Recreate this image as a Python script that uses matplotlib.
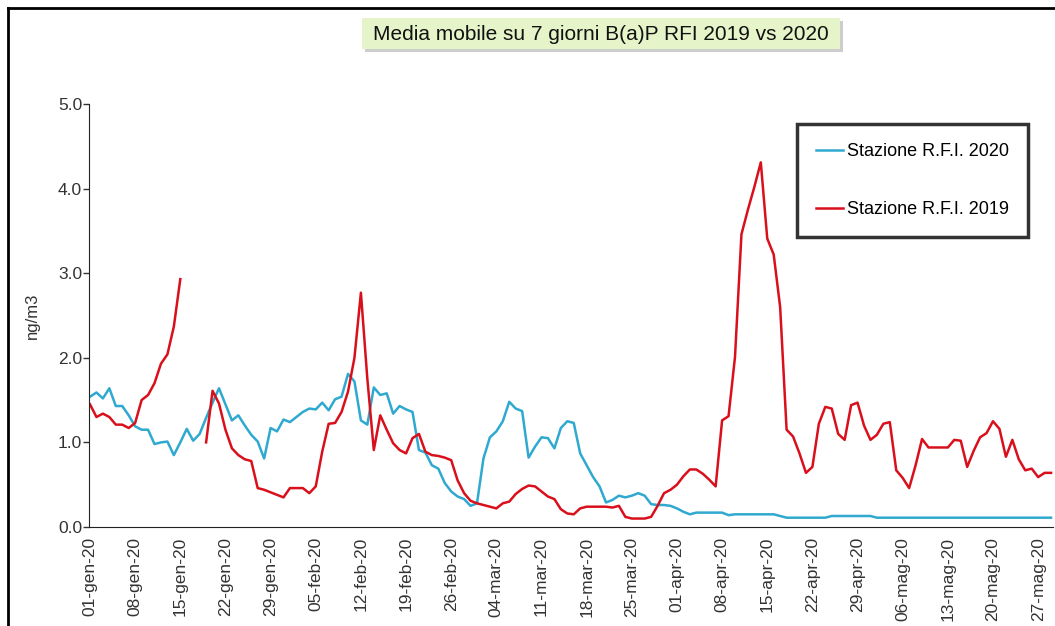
import numpy as np
import pandas as pd
import matplotlib
matplotlib.use('Agg')
import matplotlib.pyplot as plt
import matplotlib.dates as mdates
from matplotlib.lines import Line2D
from matplotlib.patches import Rectangle

plt.rcParams['font.family'] = ['Liberation Sans', 'DejaVu Sans']

nan = np.nan

# 7-day moving average, one value per day starting 01-gen
blue_2020 = [
    1.54, 1.59, 1.52, 1.64, 1.43, 1.43, 1.32, 1.19, 1.15, 1.15,
    0.98, 1.00, 1.01, 0.85, 1.00, 1.16, 1.02, 1.10, 1.29, 1.47,
    1.64, 1.45, 1.26, 1.32, 1.20, 1.09, 1.01, 0.81, 1.17, 1.13,
    1.27, 1.24, 1.30, 1.36, 1.40, 1.39, 1.47, 1.38, 1.51, 1.54,
    1.81, 1.72, 1.26, 1.21, 1.65, 1.56, 1.58, 1.34, 1.43, 1.39,
    1.36, 0.91, 0.88, 0.73, 0.69, 0.52, 0.42, 0.36, 0.33, 0.25,
    0.28, 0.81, 1.06, 1.13, 1.25, 1.48, 1.40, 1.37, 0.82, 0.95,
    1.06, 1.05, 0.93, 1.17, 1.25, 1.23, 0.87, 0.73, 0.59, 0.48,
    0.29, 0.32, 0.37, 0.35, 0.37, 0.40, 0.37, 0.27, 0.26, 0.26,
    0.25, 0.22, 0.18, 0.15, 0.17, 0.17, 0.17, 0.17, 0.17, 0.14,
    0.15, 0.15, 0.15, 0.15, 0.15, 0.15, 0.15, 0.13, 0.11, 0.11,
    0.11, 0.11, 0.11, 0.11, 0.11, 0.13, 0.13, 0.13, 0.13, 0.13,
    0.13, 0.13, 0.11, 0.11, 0.11, 0.11, 0.11, 0.11, 0.11, 0.11,
    0.11, 0.11, 0.11, 0.11, 0.11, 0.11, 0.11, 0.11, 0.11, 0.11,
    0.11, 0.11, 0.11, 0.11, 0.11, 0.11, 0.11, 0.11, 0.11, 0.11,
]

red_2019 = [
    1.45, 1.30, 1.34, 1.30, 1.21, 1.21, 1.17, 1.23, 1.50, 1.56,
    1.70, 1.93, 2.04, 2.37, 2.93, nan, nan, nan, 1.00, 1.61,
    1.46, 1.15, 0.93, 0.85, 0.80, 0.78, 0.46, 0.44, 0.41, 0.38,
    0.35, 0.46, 0.46, 0.46, 0.40, 0.48, 0.89, 1.22, 1.23, 1.36,
    1.60, 2.00, 2.77, 1.75, 0.91, 1.32, 1.15, 0.99, 0.91, 0.87,
    1.05, 1.10, 0.89, 0.85, 0.84, 0.82, 0.79, 0.55, 0.40, 0.31,
    0.28, 0.26, 0.24, 0.22, 0.28, 0.30, 0.39, 0.45, 0.49, 0.48,
    0.42, 0.36, 0.33, 0.21, 0.16, 0.15, 0.22, 0.24, 0.24, 0.24,
    0.24, 0.23, 0.25, 0.12, 0.10, 0.10, 0.10, 0.12, 0.25, 0.40,
    0.44, 0.50, 0.60, 0.68, 0.68, 0.63, 0.56, 0.48, 1.26, 1.31,
    2.01, 3.46, 3.75, 4.02, 4.31, 3.41, 3.22, 2.60, 1.15, 1.07,
    0.87, 0.64, 0.71, 1.22, 1.42, 1.40, 1.10, 1.03, 1.44, 1.47,
    1.20, 1.03, 1.09, 1.22, 1.24, 0.67, 0.58, 0.46, 0.73, 1.04,
    0.94, 0.94, 0.94, 0.94, 1.03, 1.02, 0.71, 0.90, 1.06, 1.11,
    1.25, 1.16, 0.83, 1.03, 0.80, 0.67, 0.69, 0.59, 0.64, 0.64,
]

tick_labels = [
    '01-gen-20', '08-gen-20', '15-gen-20', '22-gen-20', '29-gen-20',
    '05-feb-20', '12-feb-20', '19-feb-20', '26-feb-20', '04-mar-20',
    '11-mar-20', '18-mar-20', '25-mar-20', '01-apr-20', '08-apr-20',
    '15-apr-20', '22-apr-20', '29-apr-20', '06-mag-20', '13-mag-20',
    '20-mag-20', '27-mag-20',
]

dates = pd.date_range('2020-01-01', periods=len(blue_2020), freq='D')
x = mdates.date2num(dates)

W, H = 1055, 626
fig = plt.figure(figsize=(W / 100, H / 100), dpi=100)
fig.patch.set_facecolor('white')

# axes box in pixel terms: y axis at x=89, x axis at y=527, top (5.0) at y=104
left, right, bottom, top = 89, 1053, 527, 104
ax = fig.add_axes([left / W, 1 - bottom / H, (right - left) / W, (bottom - top) / H])

ax.plot(x, blue_2020, color='#2fa9cf', lw=1.8, label='Stazione R.F.I. 2020')
ax.plot(x, red_2019, color='#d9101c', lw=1.8, label='Stazione R.F.I. 2019')

px_day = 6.45
ax.set_xlim(x[0] - 1 / px_day, x[0] + (right - 90) / px_day)
ax.set_ylim(0, 5)

ax.set_yticks(np.arange(0, 5.01, 1.0))
ax.set_yticklabels(['%.1f' % v for v in np.arange(0, 5.01, 1.0)])
ax.set_xticks(x[::7])
ax.set_xticklabels(tick_labels, rotation=90)

ax.tick_params(axis='y', direction='out', length=4, width=1, colors='#333333',
               labelsize=12.5, pad=1)
ax.tick_params(axis='x', length=0, labelsize=12.5, labelcolor='#333333', pad=7)

for s in ['top', 'right']:
    ax.spines[s].set_visible(False)
ax.spines['left'].set_color('#222222')
ax.spines['bottom'].set_color('#222222')

ax.set_ylabel('ng/m3', fontsize=12, color='#333333', labelpad=13)

leg = ax.legend(loc='upper left', bbox_to_anchor=(797 / W, 1 - 124 / H),
                bbox_transform=fig.transFigure, fontsize=13, frameon=True,
                fancybox=False, borderpad=1.05, borderaxespad=0,
                labelspacing=2.3, handlelength=1.5, handletextpad=0.2)
leg.get_frame().set_edgecolor('black')
leg.get_frame().set_linewidth(2.5)
for line in leg.get_lines():
    line.set_linewidth(1.8)

# title in a light green box with a soft shadow
fig.add_artist(Rectangle((365 / W, 1 - 52 / H), 478 / W, 31 / H,
                         transform=fig.transFigure, facecolor='#cdcdcd', edgecolor='none'))
fig.add_artist(Rectangle((362 / W, 1 - 49 / H), 478 / W, 31 / H,
                         transform=fig.transFigure, facecolor='#e6f5c9', edgecolor='none'))
fig.text(601 / W, 1 - 34 / H, 'Media mobile su 7 giorni B(a)P RFI 2019 vs 2020',
         ha='center', va='center', fontsize=15, color='#111111')

# outer chart frame
fx0, fy0 = 8 / W, 1 - 8 / H
fig.add_artist(Line2D([fx0, fx0], [0, fy0], transform=fig.transFigure, color='black', lw=2))
fig.add_artist(Line2D([fx0, 1], [fy0, fy0], transform=fig.transFigure, color='black', lw=2))

fig.savefig('out.png', dpi=100)
